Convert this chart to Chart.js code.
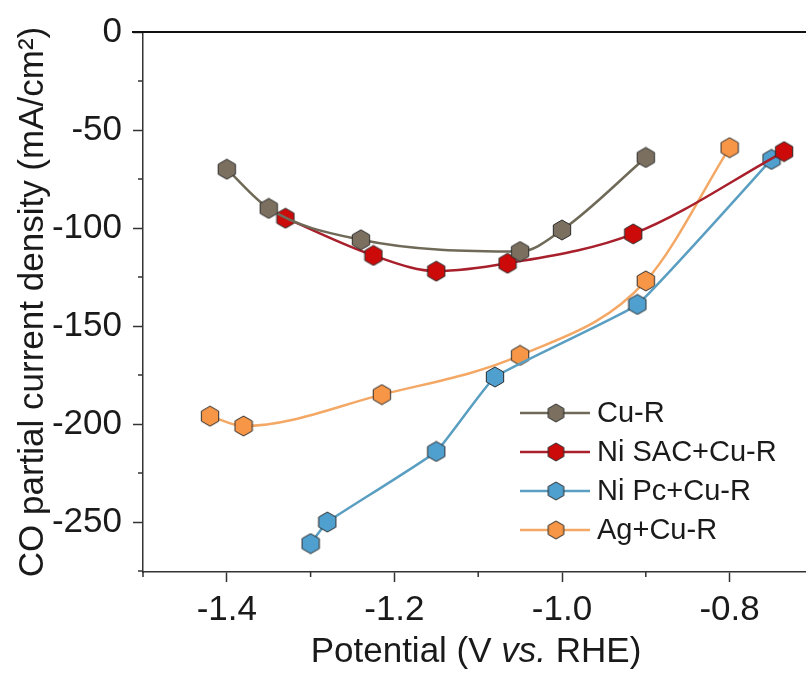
<!DOCTYPE html>
<html>
<head>
<meta charset="utf-8">
<script src="https://cdn.jsdelivr.net/npm/chart.js@4.4.0/dist/chart.umd.min.js"></script>
<style>
  html, body { margin: 0; padding: 0; background: #fff; overflow: hidden; }
</style>
</head>
<body>
<canvas id="chart" width="830" height="673"></canvas>
<script>
// values
const cuR_x = [-1.40, -1.35, -1.24, -1.05, -1.00, -0.90];
const cuR_y = [-70, -90, -106, -112, -101, -64];

const niSac_x = [-1.33, -1.225, -1.15, -1.065, -0.915, -0.735];
const niSac_y = [-95, -114, -122, -118, -103, -61];

const niPc_x = [-1.30, -1.28, -1.15, -1.08, -0.91, -0.75];
const niPc_y = [-261, -250, -214, -176, -139, -65];

const ag_x = [-1.42, -1.38, -1.215, -1.05, -0.90, -0.80];
const ag_y = [-196, -201, -185, -165, -127, -59];

const seriesLabels = ['Cu-R', 'Ni SAC+Cu-R', 'Ni Pc+Cu-R', 'Ag+Cu-R'];

const xMajorTicks = [-1.4, -1.2, -1.0, -0.8];
const xMinorTicks = [-1.5, -1.3, -1.1, -0.9, -0.7];
const yMajorTicks = [0, -50, -100, -150, -200, -250];
const yMinorTicks = [-25, -75, -125, -175, -225, -275];

const FONT = "'Liberation Sans', Arial, sans-serif";
const AXIS = '#333';
const PX_PER_VOLT = 838; // horizontal scale of the reference

function hexagon(fill, r) {
  const c = document.createElement('canvas');
  c.width = Math.ceil(r * 1.8 + 2);
  c.height = Math.ceil(r * 2 + 2);
  const g = c.getContext('2d');
  const cx = c.width / 2, cy = c.height / 2;
  g.beginPath();
  for (let k = 0; k < 6; k++) {
    const a = -Math.PI / 2 + k * Math.PI / 3;
    const px = cx + r * Math.cos(a), py = cy + r * Math.sin(a);
    if (k === 0) g.moveTo(px, py); else g.lineTo(px, py);
  }
  g.closePath();
  g.fillStyle = fill;
  g.fill();
  g.lineWidth = 1;
  g.strokeStyle = '#2b2b2b';
  g.stroke();
  return c;
}

function toPoints(xs, ys) {
  return xs.map((x, i) => ({ x: x, y: ys[i] }));
}

function makeSet(label, xs, ys, line, fill, smooth) {
  const ds = {
    label: label,
    data: toPoints(xs, ys),
    borderColor: line,
    backgroundColor: fill,
    borderWidth: 2.5,
    pointStyle: hexagon(fill, 10),
    pointRadius: 10,
    pointHoverRadius: 10,
    legendMarker: hexagon(fill, 9),
  };
  if (smooth === 'monotone') ds.cubicInterpolationMode = 'monotone';
  else ds.tension = smooth;
  return ds;
}

const datasets = [
  makeSet(seriesLabels[0], cuR_x, cuR_y, '#6f6a58', '#7b7060', 'monotone'),
  makeSet(seriesLabels[1], niSac_x, niSac_y, '#a8202c', '#cc0a0a', 'monotone'),
  makeSet(seriesLabels[2], niPc_x, niPc_y, '#5a9fc2', '#4f9fcf', 0.1),
  makeSet(seriesLabels[3], ag_x, ag_y, '#f4a866', '#f79646', 'monotone'),
];

// minor ticks, zero line, italic x title and legend
const decorations = {
  id: 'decorations',
  afterDraw(chart) {
    const { ctx, chartArea, scales } = chart;
    const xs = scales.x, ys = scales.y;
    ctx.save();
    ctx.strokeStyle = AXIS;
    ctx.lineWidth = 1.5;
    ctx.beginPath();
    xMinorTicks.forEach(v => {
      const px = xs.getPixelForValue(v);
      ctx.moveTo(px, chartArea.bottom);
      ctx.lineTo(px, chartArea.bottom + 5);
    });
    yMinorTicks.forEach(v => {
      const py = ys.getPixelForValue(v);
      ctx.moveTo(chartArea.left, py);
      ctx.lineTo(chartArea.left - 5, py);
    });
    ctx.stroke();

    // top line at 0
    const y0 = ys.getPixelForValue(0);
    ctx.strokeStyle = '#111';
    ctx.lineWidth = 2;
    ctx.beginPath();
    ctx.moveTo(chartArea.left - 11, y0);
    ctx.lineTo(chartArea.right, y0);
    ctx.stroke();

    // x title with italic "vs."
    const parts = [['Potential (V ', 'normal'], ['vs.', 'italic'], [' RHE)', 'normal']];
    ctx.fillStyle = '#1a1a1a';
    ctx.textBaseline = 'middle';
    let total = 0;
    parts.forEach(p => { ctx.font = p[1] + ' 35px ' + FONT; total += ctx.measureText(p[0]).width; });
    let tx = chartArea.left + 333 - total / 2;
    parts.forEach(p => {
      ctx.font = p[1] + ' 35px ' + FONT;
      ctx.fillText(p[0], tx, 652);
      tx += ctx.measureText(p[0]).width;
    });

    // legend
    const lx = chartArea.left + 377;
    let ly = chartArea.bottom - 159;
    ctx.font = '29px ' + FONT;
    chart.data.datasets.forEach(ds => {
      ctx.strokeStyle = ds.borderColor;
      ctx.lineWidth = 2.5;
      ctx.beginPath();
      ctx.moveTo(lx, ly);
      ctx.lineTo(lx + 70, ly);
      ctx.stroke();
      const m = ds.legendMarker;
      ctx.drawImage(m, lx + 36 - m.width / 2, ly - m.height / 2);
      ctx.fillStyle = '#1a1a1a';
      ctx.fillText(ds.label, lx + 77, ly + 1);
      ly += 39;
    });
    ctx.restore();
  }
};

const chart = new Chart(document.getElementById('chart'), {
  type: 'line',
  data: { datasets: datasets },
  options: {
    responsive: false,
    animation: false,
    devicePixelRatio: 1,
    layout: { padding: { top: 31, right: 0, left: 0, bottom: 0 } },
    plugins: {
      legend: { display: false },
      tooltip: { enabled: false },
    },
    scales: {
      x: {
        type: 'linear',
        min: -1.5,
        max: -0.7,
        afterBuildTicks: s => { s.ticks = xMajorTicks.map(v => ({ value: v })); },
        afterFit: s => { s.height = 101; },
        grid: { drawOnChartArea: false, drawTicks: true, tickLength: 10, tickColor: AXIS, tickWidth: 1.5 },
        border: { display: true, color: AXIS, width: 1.5 },
        ticks: {
          color: '#1a1a1a',
          font: { family: FONT, size: 35 },
          padding: 7,
          maxRotation: 0,
          callback: v => v.toFixed(1),
        },
      },
      y: {
        type: 'linear',
        min: -275.5,
        max: 0,
        afterBuildTicks: s => { s.ticks = yMajorTicks.map(v => ({ value: v })); },
        afterFit: s => { s.width = 143; },
        grid: { drawOnChartArea: false, drawTicks: true, tickLength: 10, tickColor: AXIS, tickWidth: 1.5 },
        border: { display: true, color: AXIS, width: 1.5 },
        ticks: {
          color: '#1a1a1a',
          font: { family: FONT, size: 35 },
          padding: 11,
          callback: v => String(v),
        },
        title: {
          display: true,
          text: 'CO partial current density (mA/cm²)',
          color: '#1a1a1a',
          font: { family: FONT, size: 35 },
          padding: { top: 12, bottom: 0 },
        },
      },
    },
  },
  plugins: [decorations],
});

// keep the reference's horizontal scale whatever width the layout gives the plot
for (let i = 0; i < 2; i++) {
  const ca = chart.chartArea;
  chart.options.scales.x.max = -1.5 + (ca.right - ca.left) / PX_PER_VOLT;
  chart.update();
}
</script>
</body>
</html>
